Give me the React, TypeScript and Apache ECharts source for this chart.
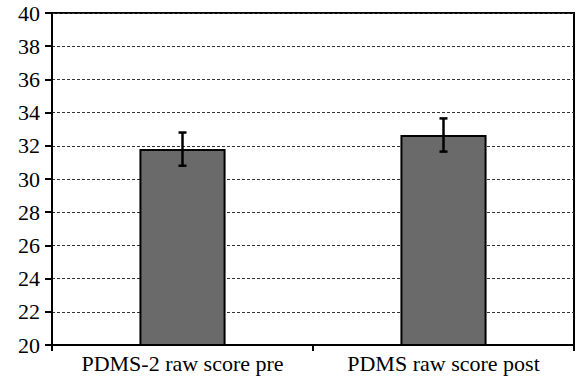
import React, { useEffect, useRef } from "react";
import * as echarts from "echarts";

const categories = ["PDMS-2 raw score pre", "PDMS raw score post"];
const means = [31.8, 32.65];
const errors = [1.0, 1.0];

export default function App() {
  const ref = useRef<HTMLDivElement>(null);
  useEffect(() => {
    if (!ref.current) return;
    const chart = echarts.init(ref.current, null, { renderer: "svg" });
    const font = "Liberation Serif";
    chart.setOption({
      animation: false,
      backgroundColor: "#ffffff",
      textStyle: { fontFamily: font },
      grid: {
        left: 52,
        top: 13,
        right: 2,
        bottom: 38,
        show: true,
        borderColor: "#000",
        borderWidth: 2,
        backgroundColor: "transparent",
      },
      xAxis: {
        type: "category",
        data: categories,
        axisLine: { show: true, lineStyle: { color: "#000", width: 2 } },
        axisTick: { show: true, length: 6, lineStyle: { color: "#000", width: 2 } },
        axisLabel: { color: "#000", fontSize: 22, fontFamily: font, margin: 7, interval: 0, hideOverlap: false },
        splitLine: { show: false },
      },
      yAxis: {
        type: "value",
        min: 20,
        max: 40,
        interval: 2,
        axisLine: { show: true, lineStyle: { color: "#000", width: 2 } },
        axisTick: { show: true, length: 7, lineStyle: { color: "#000", width: 2 } },
        axisLabel: { color: "#000", fontSize: 22, fontFamily: font, margin: 12 },
        splitLine: { show: true, lineStyle: { color: "#333", type: [3, 2], width: 1 } },
      },
      series: [
        {
          type: "bar",
          data: means,
          barWidth: "33%",
          itemStyle: { color: "#6a6a6a", borderColor: "#000", borderWidth: 2 },
          z: 2,
        },
        {
          type: "custom",
          z: 3,
          data: means.map((m, i) => [i, m - errors[i], m + errors[i]]),
          renderItem: (params: any, api: any) => {
            const x = api.value(0);
            const lo = api.coord([x, api.value(1)]);
            const hi = api.coord([x, api.value(2)]);
            const w = 4;
            const style = { stroke: "#000", lineWidth: 2.5 };
            return {
              type: "group",
              children: [
                { type: "line", shape: { x1: lo[0], y1: lo[1], x2: hi[0], y2: hi[1] }, style },
                { type: "line", shape: { x1: lo[0] - w, y1: lo[1], x2: lo[0] + w, y2: lo[1] }, style },
                { type: "line", shape: { x1: hi[0] - w, y1: hi[1], x2: hi[0] + w, y2: hi[1] }, style },
              ],
            };
          },
        },
      ],
    });
    return () => chart.dispose();
  }, []);
  return (
    <div
      ref={ref}
      style={{ position: "fixed", left: 0, top: 0, width: 576, height: 383, background: "#fff" }}
    />
  );
}
